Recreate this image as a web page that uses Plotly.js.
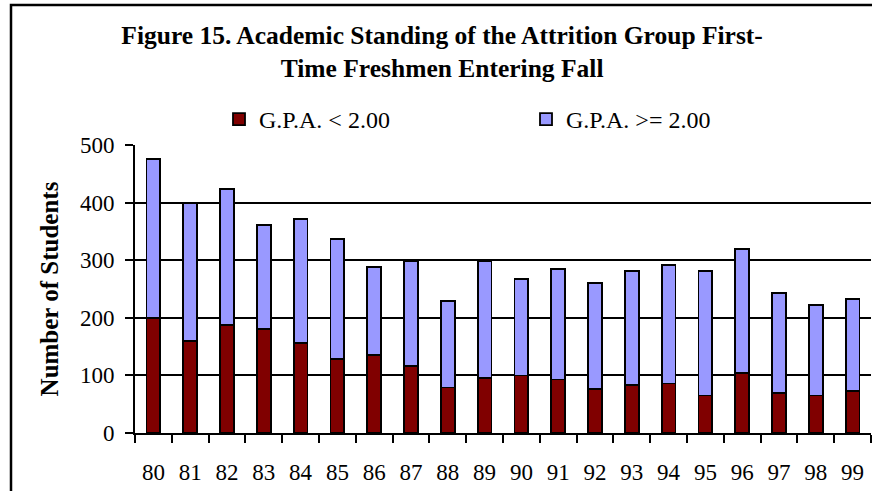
<!DOCTYPE html>
<html>
<head>
<meta charset="utf-8">
<script src="https://cdn.plot.ly/plotly-3.0.1.min.js"></script>
<style>html,body{margin:0;padding:0;background:#fff;}#chart{width:872px;height:491px;}</style>
</head>
<body>
<div id="chart"></div>
<script>
const years = ["80","81","82","83","84","85","86","87","88","89","90","91","92","93","94","95","96","97","98","99"];
const gpaBelow2 = [200,160,187,180,156,129,135,117,79,96,100,93,76,83,86,65,104,69,65,73];
const gpaAtLeast2 = [276,240,237,181,215,208,153,181,150,202,167,192,184,198,205,216,216,174,157,159];
const seriesNames = ["G.P.A. < 2.00", "G.P.A. >= 2.00"];
const titleText = "Figure 15. Academic Standing of the Attrition Group First-<br>Time Freshmen Entering Fall";
const yTitle = "Number of Students";

const font = "Liberation Serif, Times New Roman, serif";

const traces = [
  {type:"bar", x:years, y:gpaBelow2, name:seriesNames[0],
   marker:{color:"#800000", line:{color:"#000", width:1.8}}},
  {type:"bar", x:years, y:gpaAtLeast2, name:seriesNames[1],
   marker:{color:"#9999FF", line:{color:"#000", width:1.8}}}
];

const layout = {
  width:872, height:491,
  margin:{l:135, r:1, t:145, b:58},
  paper_bgcolor:"#fff", plot_bgcolor:"#fff",
  barmode:"stack", bargap:0.63,
  font:{family:font, color:"#000", size:23},
  title:{text:titleText, xref:"container", x:0.507, xanchor:"center",
         yref:"container", y:1-44/491, yanchor:"top",
         font:{family:font, size:25.5, weight:"bold", color:"#000"}},
  showlegend:true,
  legend:{orientation:"h", xref:"container", x:219/872, xanchor:"left",
          yref:"container", y:1-97/491, yanchor:"top",
          entrywidth:262, entrywidthmode:"pixels",
          font:{family:font, size:24, color:"#000"}, traceorder:"normal",
          bgcolor:"rgba(0,0,0,0)"},
  xaxis:{type:"category", showline:true, linecolor:"#000", linewidth:2,
         ticks:"outside", tickson:"boundaries", ticklen:8, tickwidth:2, tickcolor:"#000",
         ticklabelstandoff:17, showgrid:false, fixedrange:true},
  yaxis:{range:[0,500], dtick:100, showline:true, linecolor:"#000", linewidth:2,
         ticks:"outside", ticklen:8, tickwidth:2, tickcolor:"#000",
         showgrid:true, gridcolor:"#000", gridwidth:2, zeroline:false,
         ticklabelstandoff:6,
         title:{text:yTitle, standoff:14, font:{family:font, size:25, weight:"bold", color:"#000"}}},
  shapes:[{type:"rect", xref:"paper", yref:"paper",
           x0:(11-135)/736, x1:1.2, y0:(433-5)/288, y1:-0.6,
           line:{color:"#000", width:2.5}, fillcolor:"rgba(0,0,0,0)", layer:"above"}]
};

Plotly.newPlot("chart", traces, layout, {displayModeBar:false, staticPlot:true});
</script>
</body>
</html>
